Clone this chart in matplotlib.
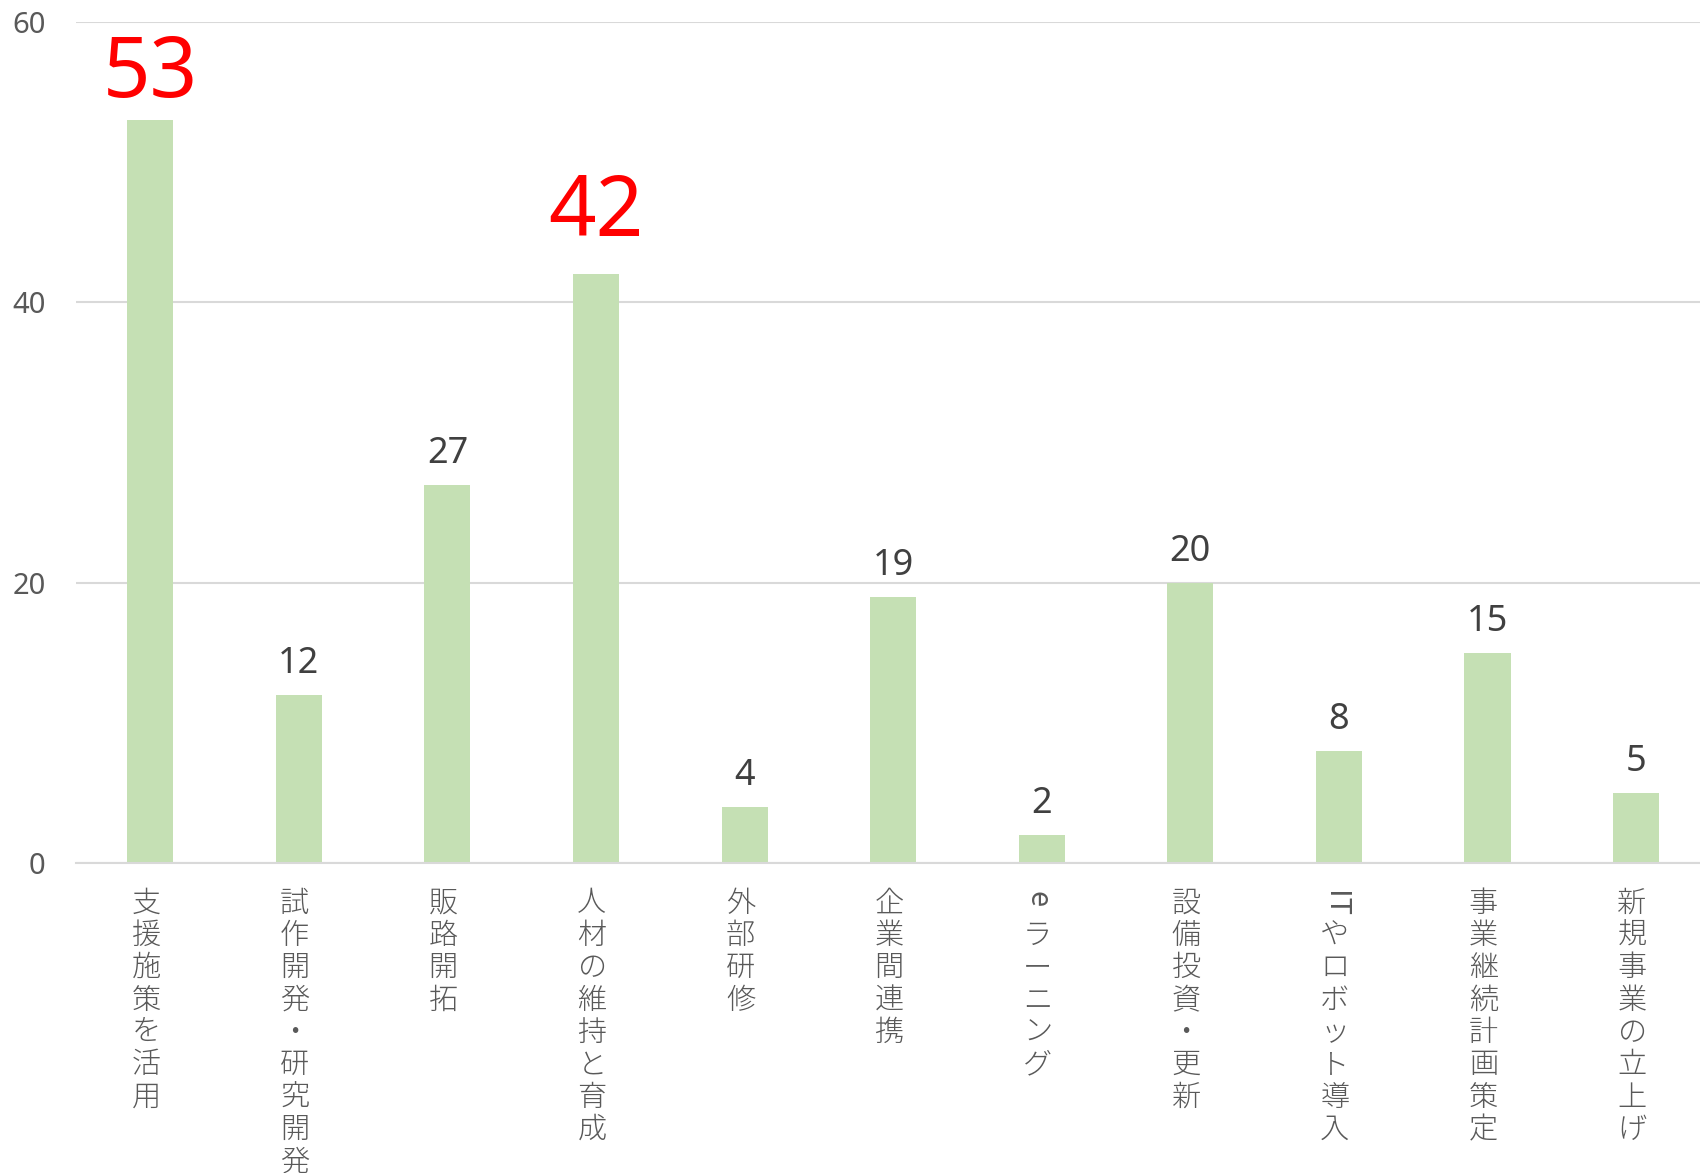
import matplotlib
matplotlib.use('Agg')
import matplotlib.pyplot as plt

# データ
categories = ['支援施策を活用', '試作開発・研究開発', '販路開拓', '人材の維持と育成', '外部研修',
              '企業間連携', 'eラーニング', '設備投資・更新', 'ITやロボット導入', '事業継続計画策定',
              '新規事業の立上げ']
values = [53, 12, 27, 42, 4, 19, 2, 20, 8, 15, 5]
highlighted = ['支援施策を活用', '人材の維持と育成']
yticks = [0, 20, 40, 60]

plt.rcParams['font.family'] = ['Noto Sans CJK JP', 'DejaVu Sans']

fig = plt.figure(figsize=(17, 11.73), dpi=100)
ax = fig.add_axes([76 / 1700, 1 - 863 / 1173, 1 - 76 / 1700, (863 - 22) / 1173])

x = list(range(len(categories)))
ax.bar(x, values, width=0.31, color='#C5E0B4', zorder=2)

ax.set_ylim(0, 60)
ax.set_xlim(-0.5, 10.43)
ax.set_yticks(yticks)
ax.set_yticklabels([str(t) for t in yticks], fontsize=21, color='#595959', family='Noto Sans')
ax.tick_params(axis='y', length=0, pad=22)
ax.set_xticks([])
for s in ['top', 'right', 'left']:
    ax.spines[s].set_visible(False)
ax.spines['bottom'].set_color('#d9d9d9')
ax.spines['bottom'].set_linewidth(1.5)
ax.yaxis.grid(True, color='#d9d9d9', linewidth=1.5, zorder=0)
ax.set_axisbelow(True)

# データラベル（強調ラベルは手動で位置調整されている）
red_offset = {'支援施策を活用': 2, '人材の維持と育成': 13}
for i, (cat, v) in enumerate(zip(categories, values)):
    if cat in highlighted:
        ax.annotate(str(v), xy=(i, v), xytext=(0, red_offset[cat]), textcoords='offset points',
                    ha='center', va='bottom', fontsize=60, color='#FF0000', family='Noto Sans')
    else:
        ax.annotate(str(v), xy=(i, v), xytext=(0, 9), textcoords='offset points',
                    ha='center', va='bottom', fontsize=26, color='#404040', family='Noto Sans')

# 縦書きのカテゴリラベル
pitch = 23.3
for i, cat in enumerate(categories):
    # 英字の連続はまとめて回転
    chunks = []
    buf = ''
    for ch in cat:
        if ch.isascii():
            buf += ch
        else:
            if buf:
                chunks.append(buf)
                buf = ''
            chunks.append(ch)
    if buf:
        chunks.append(buf)
    off = 18
    for c in chunks:
        if c.isascii():
            ax.annotate(c, xy=(i, 0), xycoords=('data', 'axes fraction'),
                        xytext=(-3, -off - 2), textcoords='offset points',
                        ha='center', va='top', rotation=-90, fontsize=21,
                        color='#595959', annotation_clip=False)
        else:
            ax.annotate(c, xy=(i, 0), xycoords=('data', 'axes fraction'),
                        xytext=(-3, -off), textcoords='offset points',
                        ha='center', va='top', fontsize=21, color='#595959',
                        fontweight='light', annotation_clip=False)
        off += pitch

fig.savefig('out.png', dpi=100)
